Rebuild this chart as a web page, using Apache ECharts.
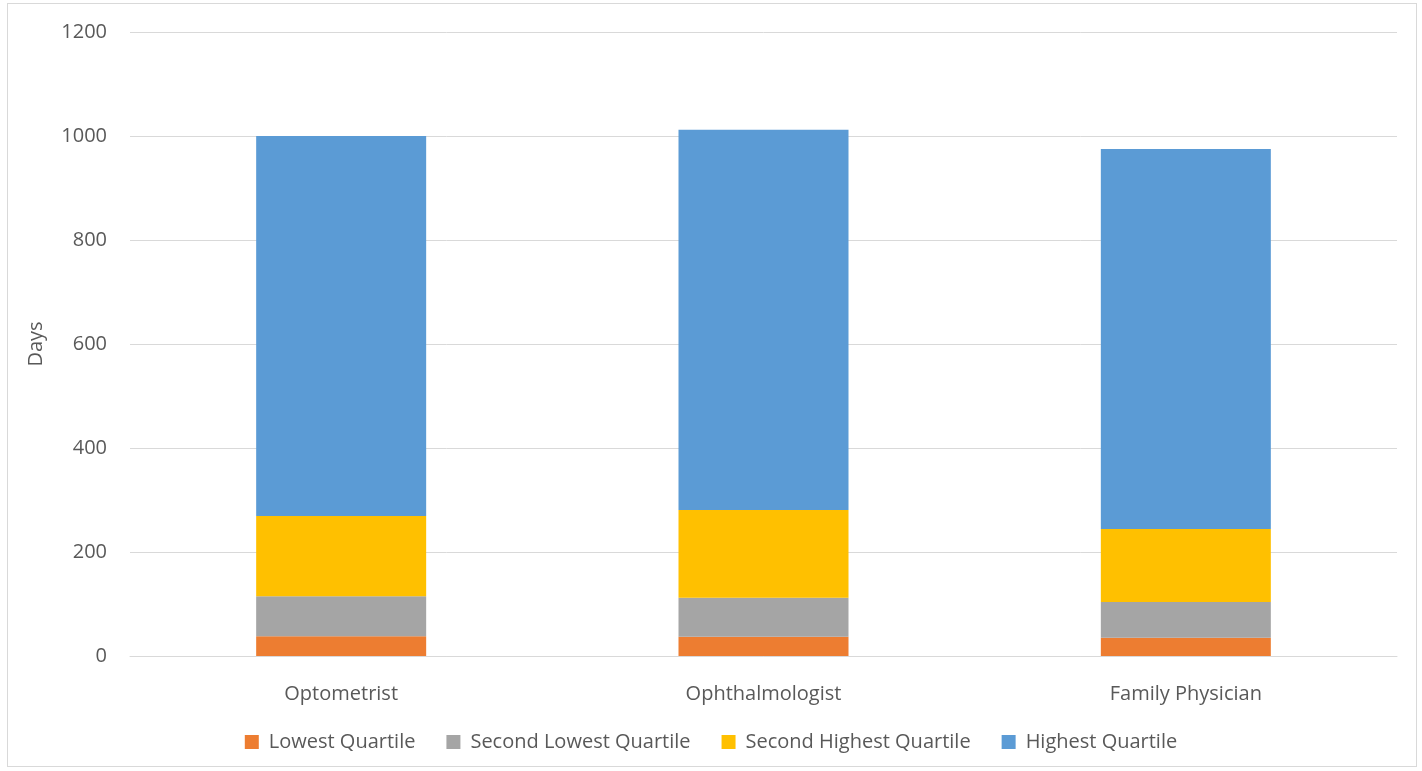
<!DOCTYPE html>
<html>
<head>
<meta charset="utf-8">
<script src="https://cdn.jsdelivr.net/npm/echarts@6/dist/echarts.min.js"></script>
<style>
html,body{margin:0;padding:0;background:#fff;}
#frame{position:absolute;left:7px;top:3px;width:1410px;height:764px;border:1px solid #d9d9d9;box-sizing:border-box;}
#chart{position:absolute;left:0;top:0;width:1422px;height:771px;}
</style>
</head>
<body>
<div id="frame"></div>
<div id="chart"></div>
<script>
const categories = ['Optometrist', 'Ophthalmologist', 'Family Physician'];
const lowestQuartile = [38, 37, 35];
const secondLowestQuartile = [77, 75, 69];
const secondHighestQuartile = [154, 169, 140];
const highestQuartile = [731, 731, 731];
const seriesNames = ['Lowest Quartile', 'Second Lowest Quartile', 'Second Highest Quartile', 'Highest Quartile'];
const seriesData = [lowestQuartile, secondLowestQuartile, secondHighestQuartile, highestQuartile];
const colors = ['#ed7d31', '#a5a5a5', '#ffc000', '#5b9bd5'];

const font = '"Open Sans", "Noto Sans", sans-serif';
const chart = echarts.init(document.getElementById('chart'));
chart.setOption({
  animation: false,
  textStyle: { fontFamily: font },
  grid: { left: 130, right: 25, top: 32, bottom: 115 },
  legend: {
    bottom: 14,
    left: 'center',
    itemWidth: 14,
    itemHeight: 14,
    itemGap: 31,
    icon: 'rect',
    textStyle: { fontSize: 20, color: '#595959', fontFamily: font, padding: [0, 0, 0, 5] },
    data: seriesNames
  },
  xAxis: {
    type: 'category',
    data: categories,
    axisLine: { lineStyle: { color: '#d9d9d9', width: 1 } },
    axisTick: { show: false },
    axisLabel: { fontSize: 20, color: '#595959', margin: 28 }
  },
  yAxis: {
    type: 'value',
    min: 0, max: 1200, interval: 200,
    name: 'Days',
    nameLocation: 'middle',
    nameGap: 84,
    nameTextStyle: { fontSize: 20, color: '#595959' },
    axisLine: { show: false },
    axisTick: { show: false },
    axisLabel: { fontSize: 20, color: '#595959', margin: 23, formatter: v => String(v) },
    splitLine: { lineStyle: { color: '#d9d9d9', width: 1 } }
  },
  color: colors,
  series: seriesNames.map((n, i) => ({
    name: n,
    type: 'bar',
    stack: 'total',
    barWidth: 170,
    data: seriesData[i],
    itemStyle: { color: colors[i] }
  }))
});
</script>
</body>
</html>
